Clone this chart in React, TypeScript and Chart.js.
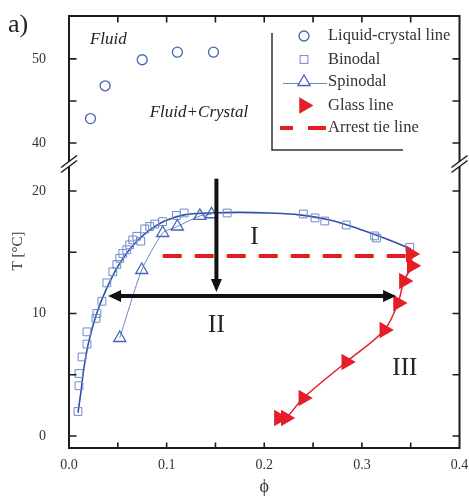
import React, { useEffect, useRef } from "react";
import { Chart, registerables } from "chart.js";

Chart.register(...registerables);

const SERIF = '"Liberation Serif", "DejaVu Serif", serif';
const INK = "#1c1c1c";
const TEXT = "#333333";
const RED = "#e41e26";
const BLUE_LINE = "#2e4fa6";
const BLUE_MARK = "#4565b8";
const BLUE_SQUARE = "#7189cd";

// Liquid-crystal coexistence points (upper panel, T in °C)
const liquidCrystalPhi = [0.022, 0.037, 0.075, 0.111, 0.148];
const liquidCrystalT = [42.9, 46.8, 49.9, 50.8, 50.8];

// Binodal measurements
const binodalPhi = [
  0.0092, 0.0102, 0.0102, 0.0133, 0.0184, 0.0184, 0.0276, 0.0286, 0.0337, 0.0388,
  0.0449, 0.049, 0.052, 0.0551, 0.0592, 0.0622, 0.0653, 0.0694, 0.0735, 0.0776,
  0.0827, 0.0878, 0.0959, 0.11, 0.118, 0.162, 0.24, 0.252, 0.262, 0.284,
  0.313, 0.315, 0.349,
];
const binodalT = [
  2.0, 4.1, 5.1, 6.45, 7.5, 8.5, 9.6, 10.0, 11.0, 12.5,
  13.4, 14.0, 14.5, 14.9, 15.2, 15.6, 16.0, 16.3, 15.9, 16.9,
  17.1, 17.3, 17.5, 18.0, 18.2, 18.2, 18.12, 17.8, 17.55, 17.22,
  16.33, 16.16, 15.4,
];

// Fitted binodal curve
const binodalFitPhi = [
  0.0092, 0.0122, 0.0153, 0.0194, 0.0245, 0.0306, 0.0378, 0.0469, 0.0571, 0.0694,
  0.0827, 0.098, 0.118, 0.144, 0.174, 0.205, 0.236, 0.266, 0.297, 0.328, 0.35,
];
const binodalFitT = [
  1.9, 3.6, 5.55, 7.4, 9.0, 10.5, 11.9, 13.4, 14.7, 15.9,
  16.8, 17.55, 18.05, 18.2, 18.25, 18.2, 18.05, 17.65, 16.9, 16.0, 15.27,
];

// Spinodal
const spinodalPhi = [0.052, 0.0745, 0.096, 0.111, 0.134, 0.146];
const spinodalT = [8.0, 13.55, 16.57, 17.1, 17.96, 18.1];

// Glass line
const glassPhi = [0.215, 0.222, 0.24, 0.284, 0.323, 0.337, 0.343, 0.351, 0.35];
const glassT = [1.47, 1.47, 3.1, 6.04, 8.65, 10.86, 12.65, 13.9, 14.86];

// Arrest tie line
const arrestPhi = [0.096, 0.35];
const arrestT = [14.7, 14.7];

// Quench arrows: [start, end]
const coolArrowPhi = [0.151, 0.151];
const coolArrowT = [21.0, 11.75];
const tieArrowPhi = [0.04, 0.335];
const tieArrowT = [11.42, 11.42];

// Axis ticks
const xTickStep = 0.05;
const upperTicks = [40, 45, 50];
const lowerTicks = [0, 5, 10, 15, 20];
const upperRange = [37.5, 55.1];
const lowerRange = [-0.98, 22.2];

// Region labels: [text, phi, T]
const regionLabels: [string, number, number][] = [
  ["I", 0.19, 16.2],
  ["II", 0.151, 9.05],
  ["III", 0.344, 5.5],
];
const phaseLabels: [string, number, number][] = [
  ["Fluid", 0.0214, 52.3],
  ["Fluid+Crystal", 0.0827, 43.6],
];

const legendLabels = [
  "Liquid-crystal line",
  "Binodal",
  "Spinodal",
  "Glass line",
  "Arrest tie line",
];

const pts = (xs: number[], ys: number[]) => xs.map((x, i) => ({ x, y: ys[i] }));

function triangle(ctx: CanvasRenderingContext2D, x: number, y: number, r: number, rotDeg: number) {
  let a = (rotDeg * Math.PI) / 180;
  ctx.beginPath();
  ctx.moveTo(x + Math.sin(a) * r, y - Math.cos(a) * r);
  a += (2 * Math.PI) / 3;
  ctx.lineTo(x + Math.sin(a) * r, y - Math.cos(a) * r);
  a += (2 * Math.PI) / 3;
  ctx.lineTo(x + Math.sin(a) * r, y - Math.cos(a) * r);
  ctx.closePath();
}

function arrowHead(
  ctx: CanvasRenderingContext2D,
  tx: number,
  ty: number,
  dx: number,
  dy: number,
  len: number,
  half: number
) {
  const bx = tx - dx * len;
  const by = ty - dy * len;
  ctx.beginPath();
  ctx.moveTo(tx, ty);
  ctx.lineTo(bx - dy * half, by + dx * half);
  ctx.lineTo(bx + dy * half, by - dx * half);
  ctx.closePath();
  ctx.fill();
}

const decor = {
  id: "decor",
  afterDatasetsDraw(chart: any) {
    const ctx: CanvasRenderingContext2D = chart.ctx;
    const a = chart.chartArea;
    const sx = chart.scales.x;
    const sLow = chart.scales.y;
    const sTop = chart.scales.yTop;
    const breakY = sTop.bottom;
    ctx.save();

    // Arrows
    ctx.strokeStyle = "#111";
    ctx.fillStyle = "#111";
    ctx.lineWidth = 4;
    {
      const x0 = sx.getPixelForValue(coolArrowPhi[0]);
      const y0 = sLow.getPixelForValue(coolArrowT[0]);
      const x1 = sx.getPixelForValue(coolArrowPhi[1]);
      const y1 = sLow.getPixelForValue(coolArrowT[1]);
      ctx.beginPath();
      ctx.moveTo(x0, y0);
      ctx.lineTo(x1, y1 - 10);
      ctx.stroke();
      arrowHead(ctx, x1, y1, 0, 1, 13, 5.5);
    }
    {
      const x0 = sx.getPixelForValue(tieArrowPhi[0]);
      const x1 = sx.getPixelForValue(tieArrowPhi[1]);
      const y = sLow.getPixelForValue(tieArrowT[0]);
      ctx.beginPath();
      ctx.moveTo(x0 + 10, y);
      ctx.lineTo(x1 - 10, y);
      ctx.stroke();
      arrowHead(ctx, x0, y, -1, 0, 13, 6);
      arrowHead(ctx, x1, y, 1, 0, 13, 6);
    }

    // Frame
    ctx.strokeStyle = INK;
    ctx.lineWidth = 2;
    ctx.beginPath();
    ctx.moveTo(a.left, a.top - 1);
    ctx.lineTo(a.left, a.bottom + 1);
    ctx.moveTo(a.left - 1, a.bottom);
    ctx.lineTo(a.right + 1, a.bottom);
    ctx.moveTo(a.right, a.bottom + 1);
    ctx.lineTo(a.right, a.top - 1);
    ctx.moveTo(a.right + 1, a.top);
    ctx.lineTo(a.left - 1, a.top);
    ctx.stroke();

    // Inward tick marks
    ctx.lineWidth = 1.6;
    ctx.beginPath();
    for (const t of sx.ticks) {
      const px = sx.getPixelForValue(t.value);
      if (px <= a.left + 2 || px >= a.right - 2) continue;
      ctx.moveTo(px, a.bottom);
      ctx.lineTo(px, a.bottom - 5.5);
      ctx.moveTo(px, a.top);
      ctx.lineTo(px, a.top + 6.5);
    }
    for (const [scale, vals] of [
      [sTop, upperTicks],
      [sLow, lowerTicks],
    ] as [any, number[]][]) {
      for (const v of vals) {
        const py = scale.getPixelForValue(v);
        ctx.moveTo(a.left, py);
        ctx.lineTo(a.left + 7.5, py);
        ctx.moveTo(a.right, py);
        ctx.lineTo(a.right - 7, py);
      }
    }
    ctx.stroke();

    // Axis breaks
    for (const bx of [a.left, a.right]) {
      const dx = 8;
      const dy = 6;
      const off = 2.5;
      ctx.fillStyle = "#ffffff";
      ctx.beginPath();
      ctx.moveTo(bx - dx, breakY - off + dy);
      ctx.lineTo(bx + dx, breakY - off - dy);
      ctx.lineTo(bx + dx, breakY + off - dy);
      ctx.lineTo(bx - dx, breakY + off + dy);
      ctx.closePath();
      ctx.fill();
      ctx.strokeStyle = INK;
      ctx.lineWidth = 1.5;
      ctx.beginPath();
      for (const o of [-off, off]) {
        ctx.moveTo(bx - dx, breakY + o + dy);
        ctx.lineTo(bx + dx, breakY + o - dy);
      }
      ctx.stroke();
    }

    // Region labels
    ctx.fillStyle = "#222";
    ctx.textAlign = "center";
    ctx.textBaseline = "middle";
    ctx.font = `25px ${SERIF}`;
    for (const [txt, phi, T] of regionLabels) {
      ctx.fillText(txt, sx.getPixelForValue(phi), sLow.getPixelForValue(T));
    }
    ctx.font = `italic 17px ${SERIF}`;
    ctx.textAlign = "left";
    for (const [txt, phi, T] of phaseLabels) {
      ctx.fillText(txt, sx.getPixelForValue(phi), sTop.getPixelForValue(T));
    }

    // Axis titles and panel tag
    ctx.fillStyle = TEXT;
    ctx.font = `18px ${SERIF}`;
    ctx.textAlign = "center";
    ctx.fillText("ϕ", (a.left + a.right) / 2, 487);
    ctx.save();
    ctx.translate(18, 251);
    ctx.rotate(-Math.PI / 2);
    ctx.font = `15px ${SERIF}`;
    ctx.fillText("T [°C]", 0, 0);
    ctx.restore();
    ctx.font = `26px ${SERIF}`;
    ctx.textAlign = "left";
    ctx.fillStyle = "#222";
    ctx.fillText("a)", 8, 25);

    // Legend
    const lx = 272;
    const ly0 = 33;
    const lyb = 150;
    ctx.strokeStyle = "#333";
    ctx.lineWidth = 1.5;
    ctx.beginPath();
    ctx.moveTo(lx, ly0);
    ctx.lineTo(lx, lyb);
    ctx.lineTo(403, lyb);
    ctx.stroke();
    const symX = 304;
    const rows = [36, 59.5, 82, 105.5, 128];
    // circle
    ctx.strokeStyle = BLUE_MARK;
    ctx.lineWidth = 1.3;
    ctx.beginPath();
    ctx.arc(symX, rows[0], 5, 0, Math.PI * 2);
    ctx.stroke();
    // square
    ctx.strokeStyle = BLUE_SQUARE;
    ctx.lineWidth = 1;
    ctx.strokeRect(symX - 3.9, rows[1] - 3.9, 7.8, 7.8);
    // spinodal line + triangle
    ctx.strokeStyle = "#5b78c4";
    ctx.lineWidth = 0.9;
    ctx.beginPath();
    ctx.moveTo(283, rows[2] + 1.5);
    ctx.lineTo(327, rows[2] + 1.5);
    ctx.stroke();
    ctx.strokeStyle = BLUE_MARK;
    ctx.lineWidth = 1.3;
    ctx.fillStyle = "#ffffff";
    triangle(ctx, symX, rows[2], 7, 0);
    ctx.fill();
    ctx.stroke();
    // glass marker
    ctx.fillStyle = RED;
    triangle(ctx, symX, rows[3], 9.5, 90);
    ctx.fill();
    // dashed tie line
    ctx.strokeStyle = RED;
    ctx.lineWidth = 4;
    ctx.beginPath();
    ctx.moveTo(280, rows[4]);
    ctx.lineTo(293, rows[4]);
    ctx.moveTo(308, rows[4]);
    ctx.lineTo(326, rows[4]);
    ctx.stroke();
    // legend text
    ctx.fillStyle = TEXT;
    ctx.font = `16.5px ${SERIF}`;
    ctx.textAlign = "left";
    ctx.textBaseline = "middle";
    legendLabels.forEach((t, i) => ctx.fillText(t, 328, rows[i]));

    ctx.restore();
  },
};

// Fixed axis sizes so the plot frame sits at the same place every time
const fixVertical = (s: any) => {
  s.width = 69;
  s.paddingTop = 0;
  s.paddingBottom = 0;
};
const fixHorizontal = (s: any) => {
  s.height = 48;
  s.paddingLeft = 0;
  s.paddingRight = 0;
};

export default function App() {
  const ref = useRef<HTMLCanvasElement>(null);

  useEffect(() => {
    document.body.style.margin = "0";
    const canvas = ref.current!;
    const tickFont = { family: SERIF, size: 14 };

    const chart = new Chart(canvas, {
      type: "line",
      data: {
        datasets: [
          {
            label: "Liquid-crystal line",
            yAxisID: "yTop",
            data: pts(liquidCrystalPhi, liquidCrystalT),
            showLine: false,
            pointStyle: "circle",
            pointRadius: 5,
            pointBorderWidth: 1.3,
            pointBorderColor: BLUE_MARK,
            pointBackgroundColor: "rgba(0,0,0,0)",
          },
          {
            label: "Arrest tie line",
            yAxisID: "y",
            data: pts(arrestPhi, arrestT),
            borderColor: RED,
            borderWidth: 4,
            borderDash: [19, 13],
            pointRadius: 0,
          },
          {
            label: "Glass line",
            yAxisID: "y",
            data: pts(glassPhi, glassT),
            borderColor: RED,
            borderWidth: 1.5,
            tension: 0.35,
            pointStyle: "triangle",
            pointRotation: 90,
            pointRadius: 9.5,
            pointBorderWidth: 0,
            pointBackgroundColor: RED,
            pointBorderColor: RED,
          },
          {
            label: "Spinodal",
            yAxisID: "y",
            data: pts(spinodalPhi, spinodalT),
            borderColor: "#5b78c4",
            borderWidth: 0.9,
            tension: 0.2,
            pointStyle: "triangle",
            pointRadius: 7,
            pointBorderWidth: 1.3,
            pointBorderColor: BLUE_MARK,
            pointBackgroundColor: "rgba(0,0,0,0)",
          },
          {
            label: "Binodal",
            yAxisID: "y",
            data: pts(binodalPhi, binodalT),
            showLine: false,
            pointStyle: "rect",
            pointRadius: 5.5,
            pointBorderWidth: 1,
            pointBorderColor: BLUE_SQUARE,
            pointBackgroundColor: "rgba(0,0,0,0)",
          },
          {
            label: "Binodal fit",
            yAxisID: "y",
            data: pts(binodalFitPhi, binodalFitT),
            borderColor: BLUE_LINE,
            borderWidth: 1.6,
            tension: 0.4,
            pointRadius: 0,
          },
        ],
      },
      options: {
        animation: false,
        responsive: false,
        devicePixelRatio: 1,
        layout: { padding: { top: 16, right: 8, left: 0, bottom: 0 } },
        plugins: { legend: { display: false }, tooltip: { enabled: false } },
        elements: { line: { fill: false } },
        scales: {
          x: {
            type: "linear",
            min: 0,
            max: 0.4,
            grid: { display: false },
            border: { display: false },
            ticks: {
              stepSize: xTickStep,
              autoSkip: false,
              maxRotation: 0,
              padding: 1,
              color: TEXT,
              font: tickFont,
              callback: (v: any) => {
                const r = Math.round(Number(v) * 100);
                return r % 10 === 0 ? (r / 100).toFixed(1) : "";
              },
            },
            afterFit: fixHorizontal,
          },
          y: {
            type: "linear",
            position: "left",
            stack: "T",
            stackWeight: 284,
            min: lowerRange[0],
            max: lowerRange[1],
            grid: { display: false },
            border: { display: false },
            afterBuildTicks: (s: any) => {
              s.ticks = lowerTicks.map((value) => ({ value }));
            },
            ticks: {
              padding: 15,
              color: TEXT,
              font: tickFont,
              autoSkip: false,
              callback: (v: any) => (Number(v) % 10 === 0 ? String(v) : ""),
            },
            afterFit: fixVertical,
          },
          yTop: {
            type: "linear",
            position: "left",
            stack: "T",
            stackWeight: 148,
            min: upperRange[0],
            max: upperRange[1],
            grid: { display: false },
            border: { display: false },
            afterBuildTicks: (s: any) => {
              s.ticks = upperTicks.map((value) => ({ value }));
            },
            ticks: {
              padding: 15,
              color: TEXT,
              font: tickFont,
              autoSkip: false,
              callback: (v: any) => (Number(v) % 10 === 0 ? String(v) : ""),
            },
            afterFit: fixVertical,
          },
        },
      } as any,
      plugins: [decor],
    });

    return () => chart.destroy();
  }, []);

  return (
    <div style={{ width: 469, height: 496, background: "#fff" }}>
      <canvas
        ref={ref}
        width={469}
        height={496}
        style={{ display: "block", width: 469, height: 496 }}
      />
    </div>
  );
}
